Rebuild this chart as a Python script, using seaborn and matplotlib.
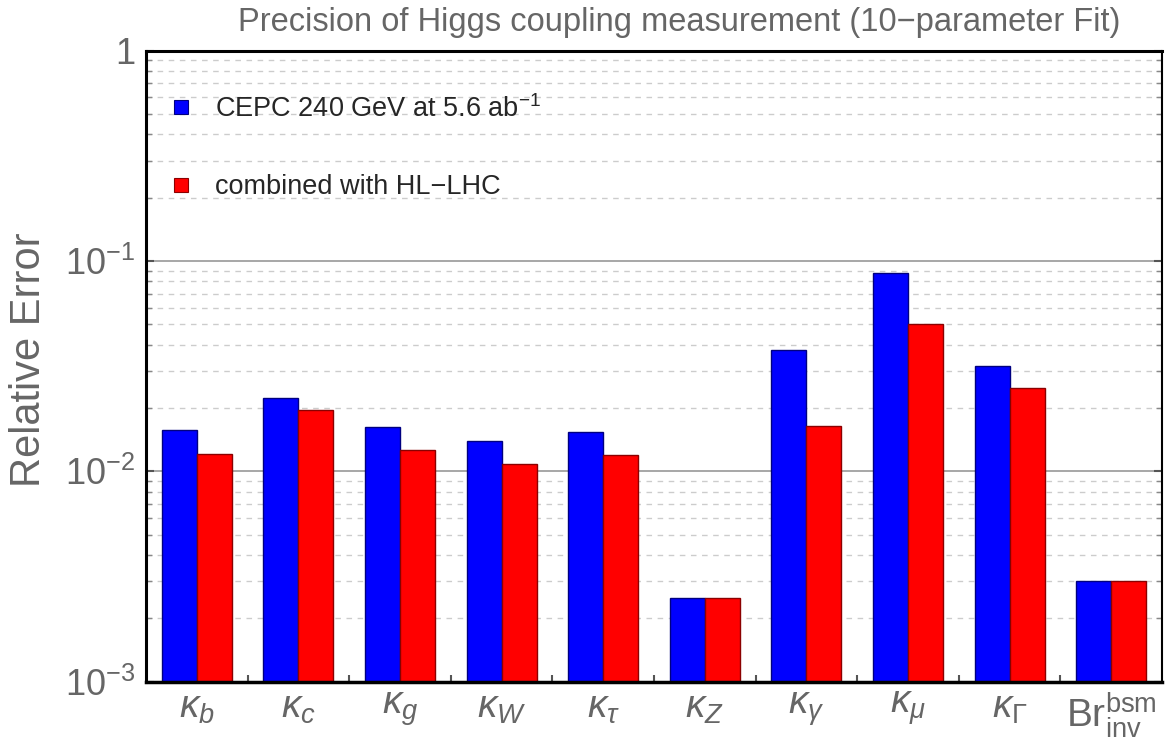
import matplotlib
matplotlib.use("Agg")
import matplotlib.pyplot as plt
from matplotlib.lines import Line2D
from matplotlib.ticker import LogLocator, FixedLocator, NullFormatter
import numpy as np
import pandas as pd
import seaborn as sns

# ---- data ----
params = [r"$\kappa_b$", r"$\kappa_c$", r"$\kappa_g$", r"$\kappa_W$", r"$\kappa_\tau$",
          r"$\kappa_Z$", r"$\kappa_\gamma$", r"$\kappa_\mu$", r"$\kappa_\Gamma$",
          r"$\mathrm{Br}_\mathrm{inv}^\mathrm{bsm}$"]
cepc = [0.0157, 0.0222, 0.0162, 0.0140, 0.0153, 0.0025, 0.0376, 0.0877, 0.0316, 0.0030]
combined = [0.0121, 0.0195, 0.0126, 0.0108, 0.0120, 0.0025, 0.0164, 0.0500, 0.0249, 0.0030]
series_names = [r"CEPC 240 GeV at 5.6 ab$^{-1}$", "combined with HL\u2212LHC"]
colors = ["#0000ff", "#ff0000"]
edgecolors = ["#000080", "#8b0000"]
title = "Precision of Higgs coupling measurement (10\u2212parameter Fit)"
ylabel = "Relative Error"

sns.set_style("white")
plt.rcParams["font.family"] = ["Liberation Sans", "DejaVu Sans"]
plt.rcParams["mathtext.fontset"] = "custom"
plt.rcParams["mathtext.rm"] = "Liberation Sans"
plt.rcParams["mathtext.it"] = "Liberation Sans:italic"
plt.rcParams["mathtext.bf"] = "Liberation Sans:bold"

df = pd.DataFrame({
    "param": params * 2,
    "value": cepc + combined,
    "series": [series_names[0]] * len(params) + [series_names[1]] * len(params),
})

gray = "#666666"
fig = plt.figure(figsize=(11.69, 7.41), dpi=100)
ax = fig.add_axes([146 / 1169, 1 - 681.6 / 741, 1016 / 1169, (681.6 - 50.7) / 741])

sns.barplot(data=df, x="param", y="value", hue="series", order=params,
            hue_order=series_names, palette=colors, width=0.69, gap=0,
            linewidth=1.0, saturation=1, ax=ax, legend=False, zorder=3)
for cont, ec in zip(ax.containers, edgecolors):
    for p in cont:
        p.set_edgecolor(ec)
        p.set_linewidth(1.0)

ax.set_yscale("log", nonpositive="clip")
ax.set_ylim(1e-3, 1)
ax.set_xlim(-0.5, len(params) - 0.5)

# grid
ax.set_axisbelow(True)
ax.yaxis.set_major_locator(LogLocator(base=10, numticks=10))
ax.yaxis.set_minor_locator(LogLocator(base=10, subs=np.arange(2, 10), numticks=20))
ax.yaxis.set_minor_formatter(NullFormatter())
ax.grid(True, axis="y", which="major", color="#a0a0a0", linewidth=1.3, linestyle="-")
ax.grid(True, axis="y", which="minor", color="#cccccc", linewidth=1.0, linestyle=(0, (4, 4)))
ax.grid(False, axis="x")
ax.set_yticks([1e-3, 1e-2, 1e-1, 1])
ax.set_yticklabels([r"$10^{-3}$", r"$10^{-2}$", r"$10^{-1}$", "1"])
ax.tick_params(axis="y", which="major", direction="in", length=6, width=1.5,
               color="#555555", labelsize=26, labelcolor=gray, pad=8, right=True, left=True)
ax.tick_params(axis="y", which="minor", direction="in", length=4, width=1,
               color="#888888", right=True, left=True)

# x ticks
ax.set_xticks(range(len(params)))
ax.set_xticklabels(params)
ax.xaxis.set_minor_locator(FixedLocator(
    [i + d for i in range(len(params)) for d in (-0.345, 0.345)]))
ax.tick_params(axis="x", which="major", length=0, labelsize=28, labelcolor=gray, pad=6)
ax.tick_params(axis="x", which="minor", direction="out", length=8, width=1, color="#aaaaaa")
sec = ax.secondary_xaxis("bottom")
inner = sorted([i + d for i in range(len(params)) for d in (-0.1725, 0.1725)] +
               [i + 0.5 for i in range(len(params) - 1)])
sec.set_xticks(inner)
sec.set_xticklabels([])
sec.tick_params(direction="in", length=5, width=1.5, color="#555555")
sec.spines["bottom"].set_visible(False)

ax.set_xlabel("")
ax.set_ylabel("")

for side, lw in (("left", 2.2), ("bottom", 2.5), ("top", 2.2), ("right", 1.5)):
    ax.spines[side].set_color("black")
    ax.spines[side].set_linewidth(lw)
    ax.spines[side].set_zorder(5)

# legend
handles = [Line2D([], [], linestyle="none", marker="s", markersize=10,
                  markerfacecolor=c, markeredgecolor=e, markeredgewidth=0.8)
           for c, e in zip(colors, edgecolors)]
ax.legend(handles, series_names, loc="upper left", bbox_to_anchor=(0.0216, 0.930),
          frameon=False, fontsize=19.5, handlelength=1.0, handletextpad=0.75,
          labelspacing=1.9, borderpad=0, borderaxespad=0)

fig.text(679 / 1169, 1 - 22 / 741, title, ha="center", va="center",
         fontsize=23.5, color=gray)
fig.text(29 / 1169, 1 - 360 / 741, ylabel, ha="center", va="center",
         rotation=90, fontsize=30, color=gray)

fig.savefig("out.png", dpi=100)
